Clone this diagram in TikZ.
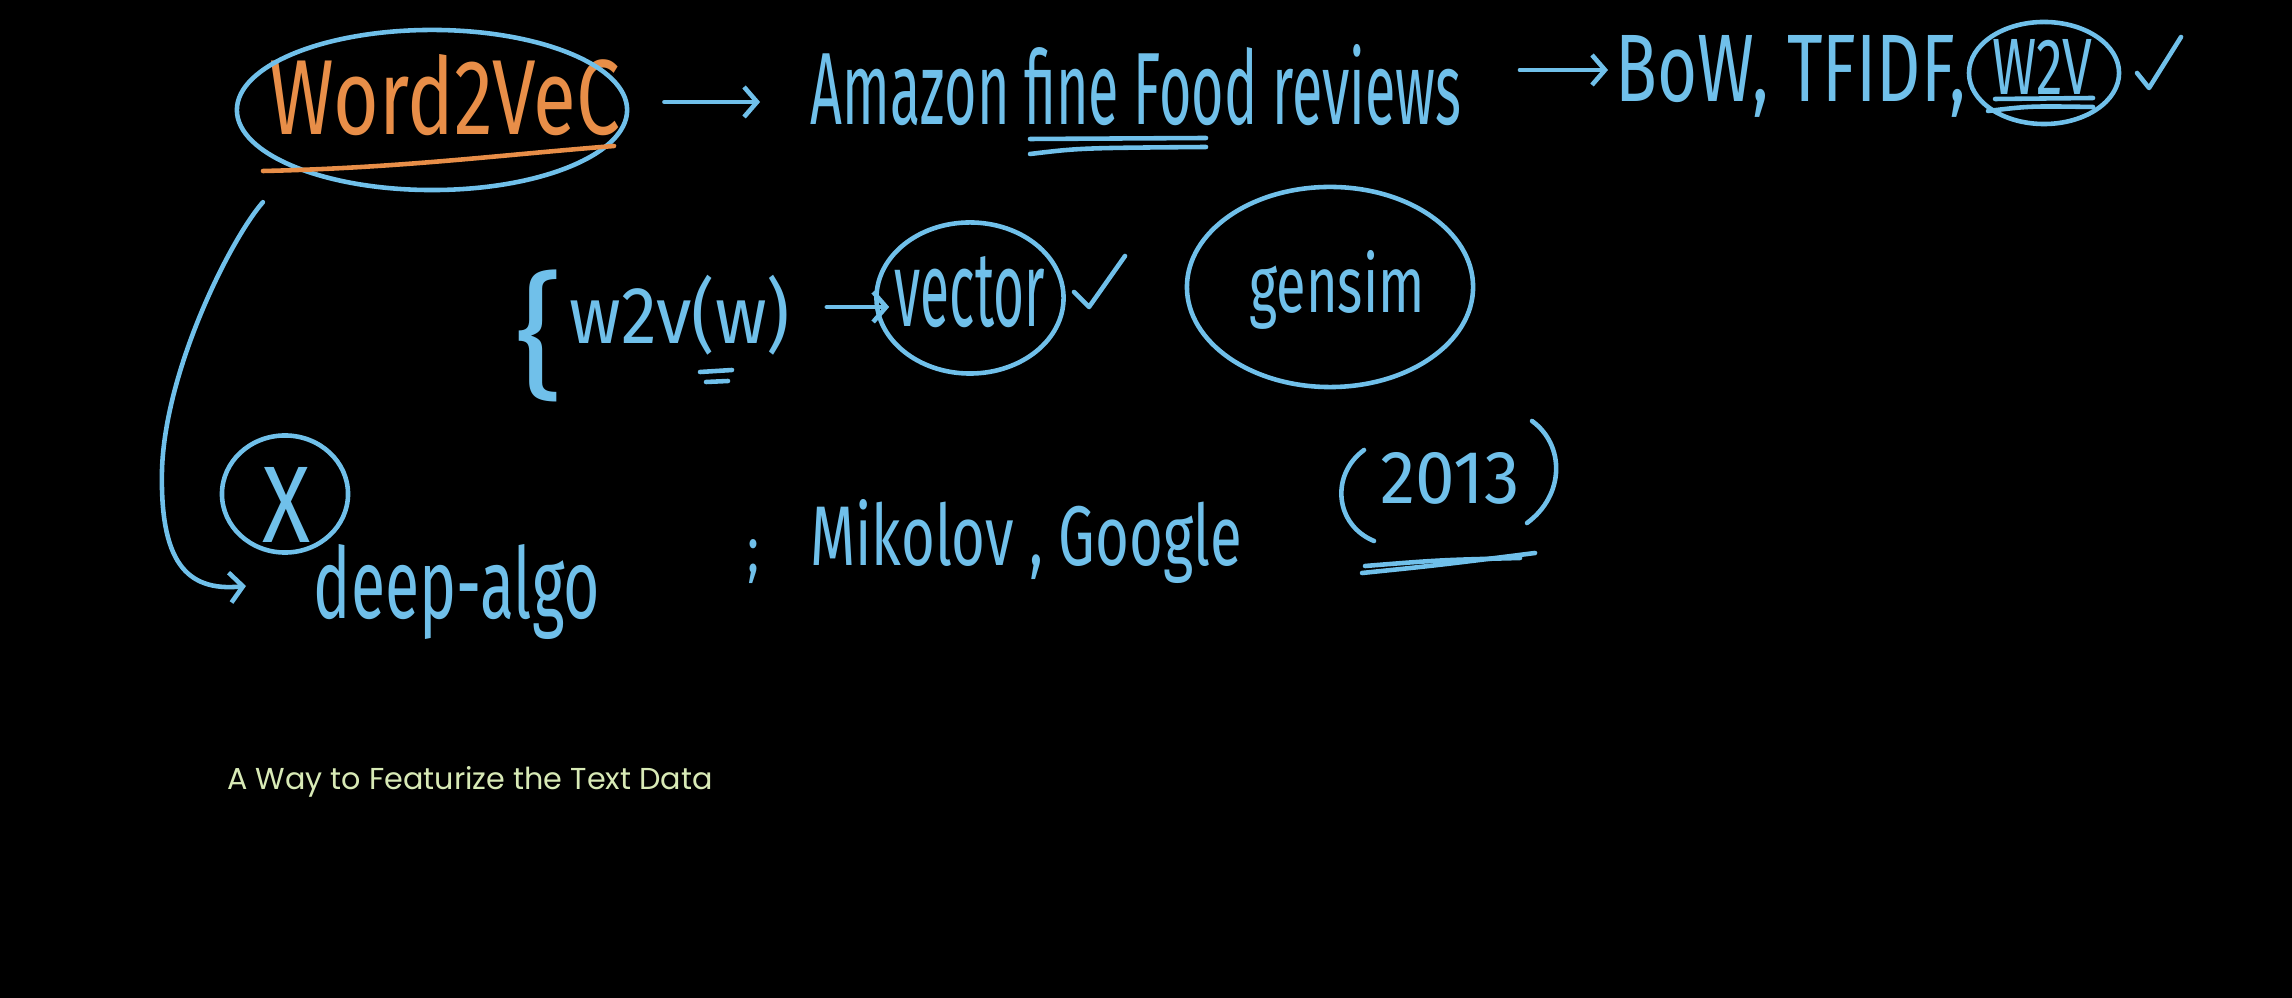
\documentclass[tikz,border=0pt]{standalone}
\usepackage{fontspec}
\setmainfont{Fira Sans}
\newfontfamily\capfont{Poppins}
\usetikzlibrary{shapes.geometric,arrows.meta}
\definecolor{hwblue}{RGB}{112,192,234}
\definecolor{hworange}{RGB}{232,142,72}
\definecolor{capgreen}{RGB}{216,234,182}
\newcommand{\hw}[3]{\resizebox{#1}{#2}{#3}}
\newcommand{\hwt}[3]{\resizebox*{#1}{#2}{#3}}
\begin{document}
\begin{tikzpicture}[x=0.01cm,y=-0.01cm,
  pen/.style={draw=hwblue,line width=1.3pt,line cap=round,line join=round},
  hand/.style={text=hwblue,inner sep=0pt},
  ring/.style={pen,ellipse,inner sep=0pt},
  arr/.style={-{Straight Barb[length=0.13cm,width=0.3cm]}}]
\fill[black] (0,0) rectangle (2292,998);
\useasboundingbox (0,0) rectangle (2292,998);

% top row
\node[hand,text=hworange] (w2v) at (445,95) {\hw{3.5cm}{0.8cm}{Word2VeC}};
\node[ring,minimum width=3.9cm,minimum height=1.6cm] (w2vring) at (432,110) {};
\draw[pen,draw=hworange] (263,171) .. controls (400,168) and (500,155) .. (614,146);

\node[hand] (amazon) at (1136,85) {\hw{6.5cm}{0.8cm}{Amazon fine Food reviews}};
\draw[pen] (1030,139) -- (1206,138);
\draw[pen] (1030,154) .. controls (1080,148) .. (1206,147);
\draw[pen,arr] ([yshift=0.08cm,xshift=0.35cm]w2vring.east) -- ([yshift=0.08cm,xshift=-0.5cm]w2vring.east -| amazon.west);

\node[hand,anchor=west] (bow) at (1615,76) {\hw{3.5cm}{0.66cm}{BoW, TFIDF,}};
\draw[pen,arr,shorten <=0.58cm,shorten >=0.07cm] ([yshift=0.06cm]bow.west -| amazon.east) -- ([yshift=0.06cm]bow.west);

\node[hand] (w2vsm) at (2042,67) {\hw{1.0cm}{0.55cm}{W2V}};
\node[ring,minimum width=1.5cm,minimum height=1.02cm] (w2vsmring) at (2044,73) {};
\draw[pen] (1995,99) -- (2093,98);
\draw[pen] (1988,111) .. controls (2030,106) .. (2093,107);
\draw[pen] (2137,73) -- (2149,88) -- (2181,37);

% middle row
\node[hand] (brace) at (540,336) {\hwt{0.48cm}{1.32cm}{\{}};
\node[hand] (w2vw) at (680,315) {\hwt{2.2cm}{0.8cm}{w2v(w)}};
\draw[pen] (700,372) -- (732,370);
\draw[pen] (706,382) -- (728,381);
\node[hand] (vector) at (970,292) {\hw{1.5cm}{0.7cm}{vector}};
\node[ring,minimum width=1.87cm,minimum height=1.51cm] (vecring) at (970,298) {};
\draw[pen,arr] ([xshift=0.36cm,yshift=0.08cm]w2vw.east) -- ([xshift=0.15cm,yshift=0.08cm]w2vw.east -| vecring.west);
\draw[pen] (1074,292) -- (1089,307) -- (1125,256);
\node[hand] (gensim) at (1337,290) {\hw{1.75cm}{0.62cm}{gensim}};
\node[ring,minimum width=2.86cm,minimum height=2.0cm] (gensimring) at (1330,287) {};

% bottom row
\node[hand] (x) at (287,505) {\hw{0.48cm}{0.75cm}{X}};
\node[ring,minimum width=1.26cm,minimum height=1.17cm] (xring) at (285,494) {};
\node[hand] (deep) at (457,592) {\hw{2.86cm}{0.74cm}{deep-algo}};
\node[hand] (semi) at (753,562) {\hwt{0.12cm}{0.44cm}{;}};
\node[hand] (mik) at (1026,541) {\hw{4.31cm}{0.66cm}{Mikolov , Google}};
\node[hand] (year) at (1450,478) {\hw{1.39cm}{0.51cm}{2013}};
\draw[pen] (1364,450) .. controls (1330,475) and (1335,525) .. (1374,541);
\draw[pen] (1532,421) .. controls (1565,445) and (1565,495) .. (1527,523);
\draw[pen] (1362,573) .. controls (1440,565) .. (1535,553);
\draw[pen] (1365,566) .. controls (1440,560) .. (1520,558);

% curved arrow
\coordinate (cend) at (246,586);
\draw[pen,arr,shorten <=0.45cm] (w2vring.south west) .. controls (230,240) and (165,370) .. (162,470) .. controls (160,560) and (185,592) .. (cend);

% caption
\node[text=capgreen,inner sep=0pt] (cap) at (470,782) {\hw{4.85cm}{!}{\capfont A Way to Featurize the Text Data}};
\end{tikzpicture}
\end{document}
